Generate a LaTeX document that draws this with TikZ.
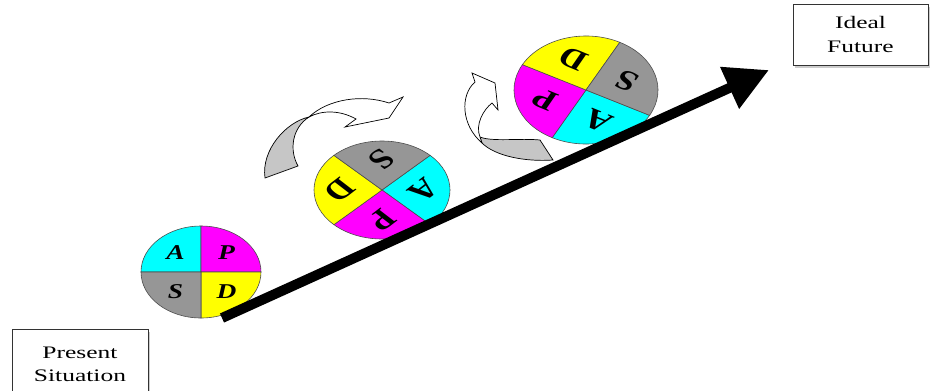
\documentclass[tikz,border=0pt]{standalone}
\usepackage{fontspec}
\setmainfont{Liberation Serif}
\usetikzlibrary{arrows.meta, shadows}
\definecolor{pdsagray}{RGB}{150,150,150}
\definecolor{pdsacyan}{RGB}{0,255,255}
\definecolor{pdsamagenta}{RGB}{255,0,255}
\definecolor{pdsayellow}{RGB}{255,255,0}

\begin{document}
\begin{tikzpicture}[
  x=0.03cm, y=-0.03cm,
  box/.style={rectangle, draw=black!80, thin, fill=white, align=center, xscale=1.45,
              font=\fontsize{15}{19}\selectfont,
              drop shadow={shadow xshift=1.5pt, shadow yshift=-2.5pt, fill=black!40}},
  rim/.style={draw=black!70, line width=0.5pt},
  lbl/.style={font=\fontsize{24}{24}\selectfont\bfseries, inner sep=0pt, xscale=1.3},
  twist/.style={draw=black, line width=0.6pt, fill=gray!45},
  ribbon/.style={draw=black, line width=0.6pt, fill=white},
  arr/.style={line width=8.5pt, -{Triangle[length=1.3cm, width=1.3cm]}}
]
  \useasboundingbox (0,0) rectangle (930,390);
  \clip (0,0) rectangle (930,390);

  % turning arrows
  \filldraw[twist] (265,178) -- (298,166) .. controls (289,150) and (292,128) .. (309,117)
        .. controls (286,122) and (261,150) .. cycle;
  \filldraw[ribbon] (309,117) .. controls (328,99) and (362,94) .. (389,103) -- (403,97)
        -- (389,118) -- (345,127) -- (356,119) .. controls (340,110) and (322,110) .. cycle;
  \filldraw[twist] (480,137) .. controls (492,142) and (520,138) .. (540,140) -- (553,160)
        .. controls (525,162) and (495,156) .. (482,143) -- cycle;
  \filldraw[ribbon] (482,143) .. controls (461,125) and (460,95) .. (475,82) -- (472,73)
        -- (495,83) -- (498,110) -- (492,103) .. controls (483,110) and (475,125) .. (480,137) -- cycle;

  % disks
  \begin{scope}[shift={(201,272)}, xscale=60, yscale=-46]
    \foreach \s/\c/\l in {90/pdsacyan/A, 0/pdsamagenta/P, -90/pdsayellow/D, 180/pdsagray/S}
      \filldraw[rim, fill=\c] (0,0) -- (\s:1) arc (\s:\s+90:1) -- cycle;
    \foreach \s/\l in {90/A, 0/P, -90/D, 180/S}
      \node[lbl, font=\fontsize{18}{18}\selectfont\bfseries\itshape] (one\l) at (\s+45:0.6) {\l};
  \end{scope}

  \begin{scope}[shift={(382,190)}, xscale=68, yscale=-49]
    \foreach \s/\c/\l in {-45/pdsacyan/A, -135/pdsamagenta/P, -225/pdsayellow/D, 45/pdsagray/S}
      \filldraw[rim, fill=\c] (0,0) -- (\s:1) arc (\s:\s+90:1) -- cycle;
    \foreach \s/\l in {-45/A, -135/P, -225/D, 45/S}
      \node[lbl, rotate=-135] (two\l) at (\s+45:0.62) {\l};
  \end{scope}

  \begin{scope}[shift={(586,90)}, xscale=72, yscale=-54]
    \foreach \s/\c/\l in {-118/pdsacyan/A, -208/pdsamagenta/P, -298/pdsayellow/D, -28/pdsagray/S}
      \filldraw[rim, fill=\c] (0,0) -- (\s:1) arc (\s:\s+90:1) -- cycle;
    \foreach \s/\l in {-118/A, -208/P, -298/D, -28/S}
      \node[lbl, rotate=-208] (three\l) at (\s+45:0.6) {\l};
  \end{scope}

  % progress arrow
  \coordinate (start) at (222,318);
  \coordinate (goal) at (769,70);
  \draw[arr] (start) -- (goal);

  \node[box, anchor=north, minimum width=2.81cm, minimum height=2.1cm] (present) at (80,329)
        {Present\\Situation};
  \node[box, minimum width=2.79cm, minimum height=1.83cm] (ideal) at (860.5,34.5)
        {Ideal\\[2pt]Future};
\end{tikzpicture}
\end{document}
